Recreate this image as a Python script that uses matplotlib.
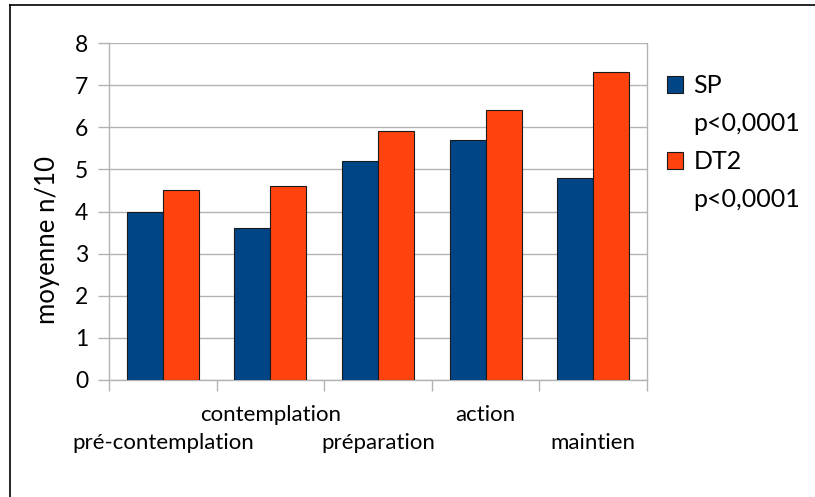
import matplotlib
matplotlib.use("Agg")
import matplotlib.pyplot as plt
from matplotlib.patches import Rectangle
from matplotlib.lines import Line2D
from matplotlib.transforms import ScaledTranslation
import numpy as np

categories = ["pré-contemplation", "contemplation", "préparation", "action", "maintien"]
sp_values = [4.0, 3.6, 5.2, 5.7, 4.8]
dt2_values = [4.5, 4.6, 5.9, 6.4, 7.3]
series_labels = ["SP", "DT2"]
pvalue_label = "p<0,0001"
y_ticks = [0, 1, 2, 3, 4, 5, 6, 7, 8]
y_label = "moyenne n/10"

plt.rcParams['font.family'] = ['Lato', 'DejaVu Sans']
FS = 16
BLUE = "#004586"
ORANGE = "#ff420e"
GRAY = "#b3b3b3"

fig = plt.figure(figsize=(8.15, 4.97), dpi=100)
ax = fig.add_axes([109/815, 1-380/497, (647-109)/815, (380-43)/497])

x = np.arange(len(categories))
w = 0.335
b1 = ax.bar(x - w/2, sp_values, w, color=BLUE, edgecolor="#1a1a1a", linewidth=0.8, zorder=3)
b2 = ax.bar(x + w/2, dt2_values, w, color=ORANGE, edgecolor="#1a1a1a", linewidth=0.8, zorder=3)

ax.set_xlim(-0.5, len(categories) - 0.5)
ax.set_ylim(0, 8)
ax.set_yticks(y_ticks)
ax.set_yticklabels([str(t) for t in y_ticks], fontsize=FS + 0.5)
ax.yaxis.grid(True, color=GRAY, linewidth=1.0, zorder=0)
ax.set_axisbelow(True)
for s in ax.spines.values():
    s.set_color(GRAY)
    s.set_linewidth(1.0)
ax.spines['top'].set_visible(False)

# category labels: staggered on two rows
ax.set_xticks(x)
ax.set_xticklabels([])
ax.set_xticks(np.arange(-0.5, len(categories)), minor=True)
ax.tick_params(axis='x', which='major', length=0)
ax.tick_params(axis='x', which='minor', length=8, width=1.0, color=GRAY, direction='out')
ax.tick_params(axis='y', length=8, width=1.0, color=GRAY, pad=7)

xtrans = ax.get_xaxis_transform()
for i, c in enumerate(categories):
    dy = -35/100 if i % 2 == 1 else -63/100
    ax.text(i, 0, c, fontsize=FS, ha='center', va='center',
            transform=xtrans + ScaledTranslation(0, dy, fig.dpi_scale_trans))

ax.set_ylabel(y_label, fontsize=18.5)
ax.yaxis.set_label_coords(-(109-60)/538, (380-240)/337)

empty = Rectangle((0, 0), 1, 1, fill=False, edgecolor='none')
leg = fig.legend([b1[0], empty, b2[0], empty],
                 [series_labels[0], pvalue_label, series_labels[1], pvalue_label],
                 loc='upper left', bbox_to_anchor=(667/815, 1-74/497),
                 frameon=False, fontsize=18, handlelength=0.65, handleheight=0.65,
                 handletextpad=0.4, labelspacing=0.6, borderaxespad=0, borderpad=0)

fig.add_artist(Line2D([10/815, 10/815], [0, 1-5/497], color='black', linewidth=1.2))
fig.add_artist(Line2D([10/815, 1], [1-5/497, 1-5/497], color='black', linewidth=1.2))

fig.savefig("out.png", dpi=100)
